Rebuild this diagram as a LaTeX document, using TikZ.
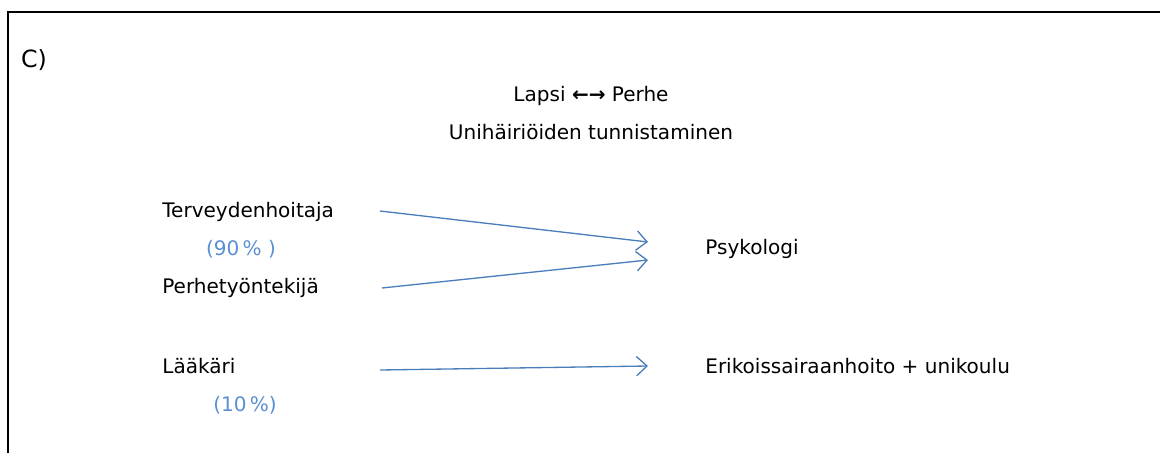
\documentclass[tikz,border=0pt]{standalone}
\usepackage{fontspec}
\setmainfont{DejaVu Sans}
\usepackage{xcolor}
\usetikzlibrary{arrows.meta,positioning}
\definecolor{arrowblue}{HTML}{4A7EBB}
\definecolor{pctblue}{HTML}{5B8FD3}

\begin{document}
\begin{tikzpicture}[
  x=0.02cm, y=-0.02cm,
  font=\fontsize{11.4}{13}\selectfont,
  role/.style={inner sep=0pt, anchor=west},
  pct/.style={inner sep=0pt, text=pctblue},
  flow/.style={-{Straight Barb[length=6pt,width=11pt]}, color=arrowblue, line width=0.75pt}
]
\useasboundingbox (0,0) rectangle (1160,453);

% frame
\draw[line width=0.9pt] (8,453) -- (8,12) -- (1160,12);

\node[inner sep=0pt, font=\fontsize{13.5}{15}\selectfont] (tag) at (34,60) {C)};

\node[inner sep=0pt] (title) at (591,96) {Lapsi {\bfseries ←→} Perhe};
\node[inner sep=0pt] (subtitle) at (591,132) {Unihäiriöiden tunnistaminen};

% sources
\node[role] (terv) at (162,212) {Terveydenhoitaja};
\node[pct] (p90) at (241,249) {(90\,\% )};
\node[role] (perhe) at (162,288) {Perhetyöntekijä};
\node[role] (laak) at (162,366) {Lääkäri};
\node[pct] (p10) at (245,405) {(10\,\%)};

% targets
\node[role] (psy) at (705,249) {Psykologi};
\node[role] (erik) at (705,366) {Erikoissairaanhoito + unikoulu};

\coordinate (terv-out) at (380,211);
\coordinate (perhe-out) at (382,288);
\coordinate (laak-out) at (380,370);
\coordinate (psy-in1) at (648,242);
\coordinate (psy-in2) at (648,260);
\coordinate (erik-in) at (648,366);

\draw[flow] (terv-out) -- (psy-in1);
\draw[flow] (perhe-out) -- (psy-in2);
\draw[flow] (laak-out) -- (erik-in);
\end{tikzpicture}
\end{document}
